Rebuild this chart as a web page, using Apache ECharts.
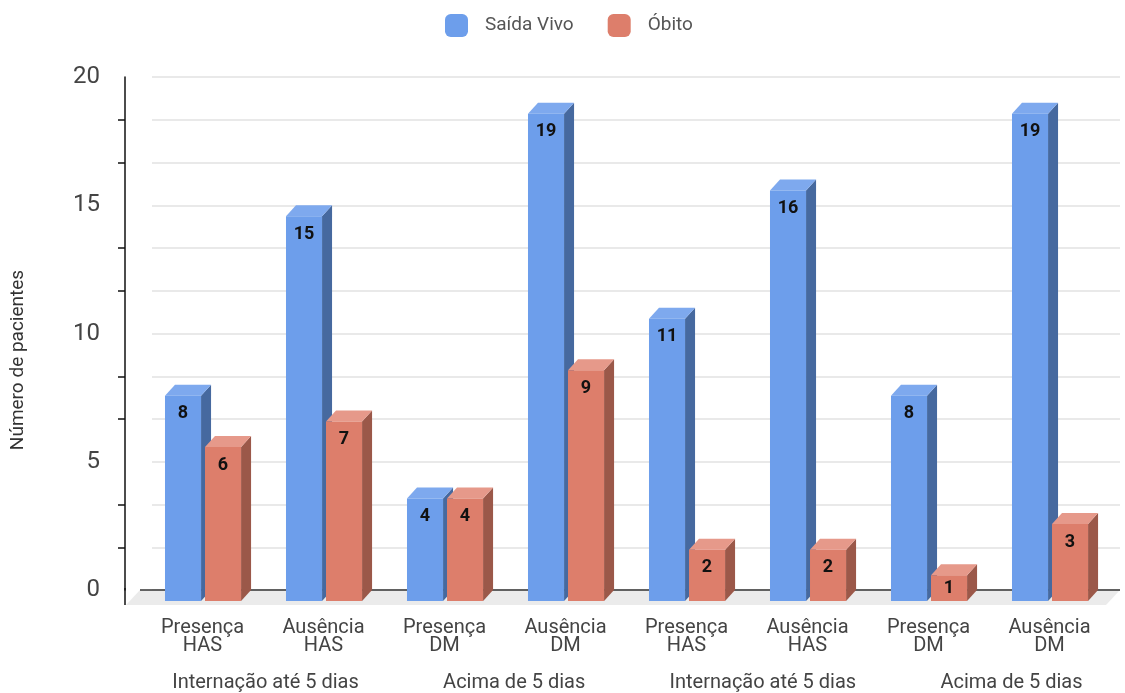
<!DOCTYPE html>
<html>
<head>
<meta charset="utf-8">
<script src="https://cdn.jsdelivr.net/npm/echarts@6/dist/echarts.min.js"></script>
<style>html,body{margin:0;padding:0;background:#fff}#c{width:1125px;height:693px}</style>
</head>
<body>
<div id="c"></div>
<script>
const categories = ['Presença\nHAS','Ausência\nHAS','Presença\nDM','Ausência\nDM','Presença\nHAS','Ausência\nHAS','Presença\nDM','Ausência\nDM'];
const groups = ['Internação até 5 dias','Acima de 5 dias','Internação até 5 dias','Acima de 5 dias'];
const seriesNames = ['Saída Vivo','Óbito'];
const saidaVivo = [8,15,4,19,11,16,8,19];
const obito = [6,7,4,9,2,2,1,3];
const yTicks = {min:0, max:20, interval:5};

const FONT = 'Roboto, "Liberation Sans", Arial, sans-serif';
const palette = [
  {front:'#6d9eeb', top:'#7ea9ee', side:'#46699f'},
  {front:'#dd7e6b', top:'#e6998a', side:'#9b5849'}
];
const DX = 10, DY = 11;

function makeRender(si){
  return function(params, api){
    const cat = api.value(0), val = api.value(1);
    const base = api.coord([cat, 0]);
    const tp = api.coord([cat, val]);
    const band = api.size([1,0])[0];
    const w = band*0.298;
    const off = si===0 ? -band*0.31 : band*0.0207;
    const bx = base[0]+off, by0 = base[1], by1 = tp[1];
    const c = palette[si];
    const fx = bx-DX, fTop = by1+DY, fBot = by0+DY;
    const ly = Math.min(fTop+18, (fTop+fBot)/2);
    return {type:'group', children:[
      {type:'polygon', shape:{points:[[bx-DX+w,fTop],[bx+w,by1],[bx+w,by0],[bx-DX+w,fBot]]}, style:{fill:c.side}},
      {type:'polygon', shape:{points:[[fx,fTop],[fx+w,fTop],[bx+w,by1],[bx,by1]]}, style:{fill:c.top}},
      {type:'rect', shape:{x:fx, y:fTop, width:w, height:fBot-fTop}, style:{fill:c.front}},
      {type:'text', x:fx+w/2, y:ly, style:{text:String(val), fill:'#111', font:'bold 18px '+FONT, textAlign:'center', textVerticalAlign:'middle'}}
    ]};
  };
}

function renderFloor(params, api){
  const cs = params.coordSys;
  const y0 = cs.y+cs.height, xl = cs.x-12, xr = cs.x+cs.width;
  const ax = cs.x-27;
  return {type:'group', children:[
    {type:'polygon', shape:{points:[[xl,y0],[xr,y0],[xr-14,y0+15],[xl-14,y0+15]]}, style:{fill:'#ebebeb'}},
    {type:'line', shape:{x1:xl, y1:y0, x2:xr, y2:y0}, style:{stroke:'#333', lineWidth:1.5}},
    {type:'line', shape:{x1:ax, y1:y0-2, x2:ax, y2:y0+15}, style:{stroke:'#111', lineWidth:1.5}}
  ]};
}

const chart = echarts.init(document.getElementById('c'));
chart.setOption({
  backgroundColor:'#fff',
  animation:false,
  textStyle:{fontFamily:FONT},
  legend:{
    data:seriesNames, top:9, left:440, icon:'roundRect', itemWidth:23, itemHeight:23, itemGap:34,
    textStyle:{fontSize:19, color:'#555', padding:[0,0,0,12], fontFamily:FONT}
  },
  grid:[
    {left:152, right:5, top:77, bottom:103},
    {left:265.5, right:113.5, top:77, bottom:103}
  ],
  xAxis:[
    {type:'category', data:categories, gridIndex:0,
     axisLine:{show:false}, axisTick:{show:false}, splitLine:{show:false},
     axisLabel:{fontSize:20, lineHeight:18, color:'#444', margin:29, padding:[0,20,0,0], interval:0, fontFamily:FONT}},
    {type:'category', data:groups, gridIndex:1, boundaryGap:false,
     axisLine:{show:false}, axisTick:{show:false}, splitLine:{show:false},
     axisLabel:{fontSize:20, lineHeight:20, color:'#444', margin:83, interval:0, fontFamily:FONT}}
  ],
  yAxis:[
    {type:'value', gridIndex:0, min:yTicks.min, max:yTicks.max, interval:yTicks.interval, offset:27,
     axisLine:{show:true, lineStyle:{color:'#111', width:1.5}},
     axisTick:{show:false},
     minorTick:{show:true, splitNumber:3, length:7, lineStyle:{color:'#111', width:1.5}},
     splitLine:{show:true, lineStyle:{color:'#e2e2e2', width:1.5}},
     minorSplitLine:{show:true, lineStyle:{color:'#e2e2e2', width:1.5}},
     axisLabel:{fontSize:24, color:'#444', margin:25, fontFamily:FONT}},
    {type:'value', gridIndex:1, show:false, min:0, max:20}
  ],
  graphic:[
    {type:'text', x:18, y:360, rotation:Math.PI/2, style:{text:'Número de pacientes', font:'19px '+FONT, fill:'#333', textAlign:'center', textVerticalAlign:'middle'}}
  ],
  series:[
    {type:'custom', name:'__floor', xAxisIndex:0, yAxisIndex:0, z:1, silent:true, renderItem:renderFloor, data:[[0,0]]},
    {type:'custom', name:seriesNames[0], xAxisIndex:0, yAxisIndex:0, z:3, itemStyle:{color:palette[0].front},
     renderItem:makeRender(0), data:saidaVivo.map((v,i)=>[i,v])},
    {type:'custom', name:seriesNames[1], xAxisIndex:0, yAxisIndex:0, z:3, itemStyle:{color:palette[1].front},
     renderItem:makeRender(1), data:obito.map((v,i)=>[i,v])}
  ]
});
</script>
</body>
</html>
